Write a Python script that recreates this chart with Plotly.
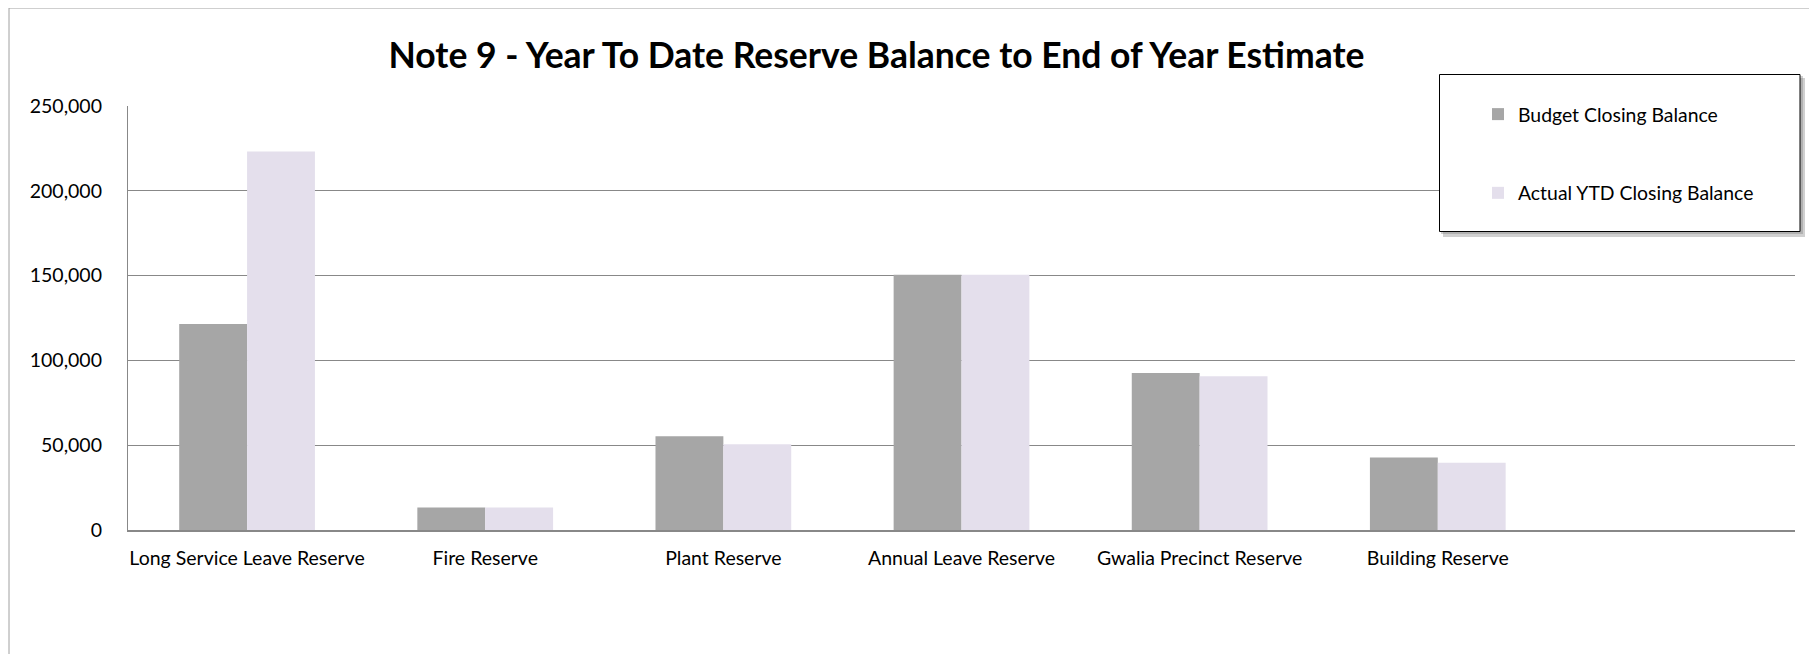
import plotly.graph_objects as go

categories = ["Long Service Leave Reserve", "Fire Reserve", "Plant Reserve",
              "Annual Leave Reserve", "Gwalia Precinct Reserve", "Building Reserve"]
budget_closing = [121500, 13200, 55300, 150500, 92500, 42700]
actual_ytd_closing = [223100, 13200, 50600, 150500, 90700, 39600]
series_names = ["Budget Closing Balance", "Actual YTD Closing Balance"]
title_text = "Note 9 - Year To Date Reserve Balance to End of Year Estimate"

OFF = 8  # page body margin
W, H = 1817 - OFF, 654 - OFF
# plot area in screen pixels
SL, SR, ST, SB = 128, 1795, 106, 530
L, T = SL - OFF, ST - OFF
R = W - (SR - OFF)
B = H - (SB - OFF)
PW, PH = W - L - R, H - T - B


def px_x(p):
    return (p - SL) / PW


def px_y(p):
    return (SB - p) / PH


FONT = "Lato"
GRID = "#888888"

fig = go.Figure()
fig.add_trace(go.Bar(x=categories, y=budget_closing, name=series_names[0],
                     marker=dict(color="#A6A6A6", line=dict(width=0)),
                     legendgroup="a"))
fig.add_trace(go.Bar(x=categories, y=actual_ytd_closing, name=series_names[1],
                     marker=dict(color="#E4DFEC", line=dict(width=0)),
                     legendgroup="b"))

shapes = [
    # outer chart border
    dict(type="rect", xref="paper", yref="paper",
         x0=px_x(9), x1=px_x(1840), y0=px_y(8), y1=px_y(700),
         line=dict(color="#A0A0A0", width=1), fillcolor="rgba(0,0,0,0)", layer="below"),
    # legend shadow
    dict(type="rect", xref="paper", yref="paper",
         x0=px_x(1443), x1=px_x(1805), y0=px_y(78), y1=px_y(237),
         line=dict(width=0), fillcolor="rgba(120,120,120,0.35)", layer="above"),
    dict(type="rect", xref="paper", yref="paper",
         x0=px_x(1441), x1=px_x(1803), y0=px_y(76), y1=px_y(234),
         line=dict(width=0), fillcolor="rgba(120,120,120,0.35)", layer="above"),
    # legend box
    dict(type="rect", xref="paper", yref="paper",
         x0=px_x(1439.5), x1=px_x(1800), y0=px_y(74.5), y1=px_y(231.5),
         line=dict(color="#000000", width=1), fillcolor="white", layer="above"),
]

fig.update_layout(
    width=W, height=H,
    margin=dict(l=L, r=R, t=T, b=B, pad=0),
    paper_bgcolor="white", plot_bgcolor="white",
    barmode="group", bargap=0.43, bargroupgap=0,
    title=dict(text=title_text, x=(876.5 - OFF) / W, xref="container", xanchor="center",
               y=1 - (56 - OFF) / H, yref="container", yanchor="middle",
               font=dict(family=FONT, size=35.5, color="black", weight="bold")),
    font=dict(family=FONT, size=19.5, color="black"),
    xaxis=dict(type="category", range=[-0.5, 6.5], showline=True, linecolor=GRID,
               linewidth=1.5, ticks="", showgrid=False, tickfont=dict(size=19.5),
               ticklabelstandoff=10, fixedrange=True),
    yaxis=dict(range=[0, 250000], dtick=50000, tickformat=",", showgrid=True,
               gridcolor=GRID, gridwidth=1.2, showline=True, linecolor=GRID,
               linewidth=1.2, ticks="", tickfont=dict(size=19.5), zeroline=False,
               ticklabelstandoff=21, fixedrange=True),
    legend=dict(x=px_x(1478), y=px_y(95), xanchor="left", yanchor="top",
                bgcolor="rgba(0,0,0,0)", borderwidth=0,
                traceorder="grouped", tracegroupgap=50.5,
                font=dict(family=FONT, size=19.4, color="black")),
    shapes=shapes,
)

fig.write_html("out.html")
